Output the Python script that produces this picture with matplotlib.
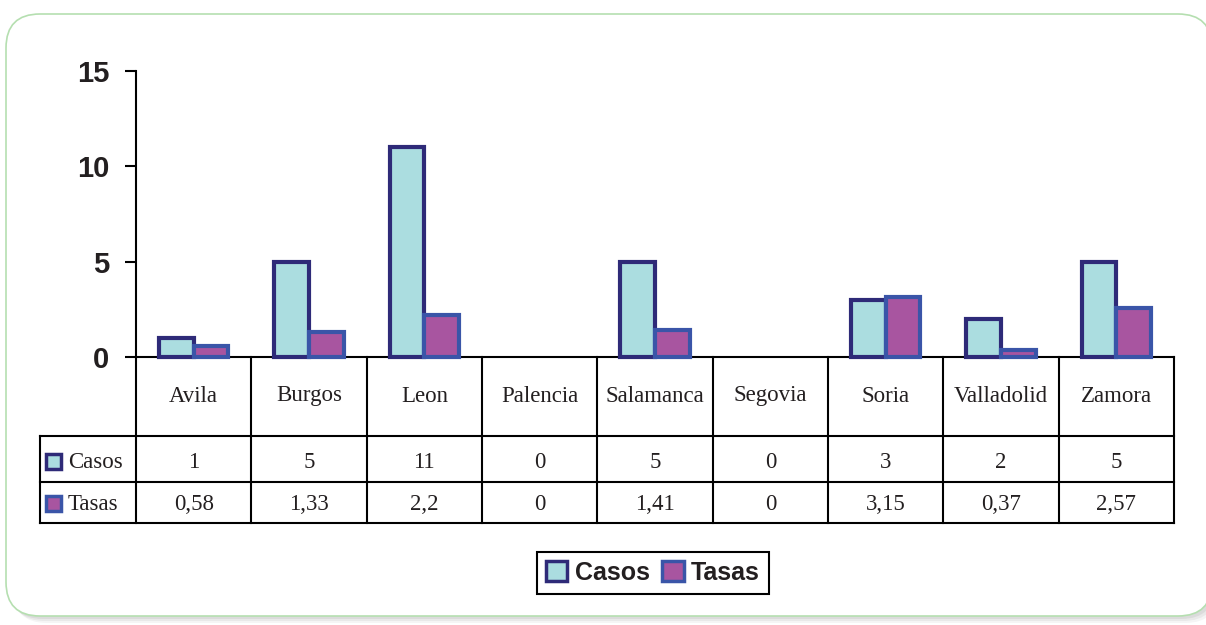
import matplotlib
matplotlib.use("Agg")
import matplotlib.pyplot as plt
from matplotlib.patches import FancyBboxPatch, Patch, Rectangle
from matplotlib.transforms import IdentityTransform
import numpy as np

categories = ["Avila", "Burgos", "Leon", "Palencia", "Salamanca",
              "Segovia", "Soria", "Valladolid", "Zamora"]
casos = [1, 5, 11, 0, 5, 0, 3, 2, 5]
tasas = [0.58, 1.33, 2.2, 0, 1.41, 0, 3.15, 0.37, 2.57]
yticks = [0, 5, 10, 15]

CASOS_FILL, CASOS_EDGE = "#abdde0", "#2e2a78"
TASAS_FILL, TASAS_EDGE = "#a855a0", "#3a55a8"
SERIF = "Liberation Serif"
SANS = "Liberation Sans"

W, H = 1206, 625
fig = plt.figure(figsize=(W / 100, H / 100), dpi=100)


def fy(y_img):
    return 1 - y_img / H


# rounded green frame with soft shadow
for off, a in [(7, 0.08), (5, 0.10), (3, 0.13)]:
    fig.patches.append(FancyBboxPatch(
        (6 + off, 9 - off), 1206, 602, boxstyle="round,pad=0,rounding_size=34",
        transform=IdentityTransform(), facecolor="#808080", edgecolor="none",
        alpha=a, zorder=-3))
fig.patches.append(FancyBboxPatch(
    (6, 9), 1206, 602, boxstyle="round,pad=0,rounding_size=34",
    transform=IdentityTransform(), facecolor="white", edgecolor="#b5dfb0",
    linewidth=1.2, zorder=-2))

# bar axes
x0, x1 = 136, 1174
y_top, y_base, y_tab = 71, 357, 523
ax = fig.add_axes([x0 / W, fy(y_base), (x1 - x0) / W, (y_base - y_top) / H])
ax.set_facecolor("none")
n = len(categories)
x = np.arange(n)
ax.set_xlim(-0.5, n - 0.5)
ax.set_ylim(0, 15)

bw = 0.3
lw_c = [0 if v == 0 else 3 for v in casos]
lw_t = [0 if v == 0 else 3 for v in tasas]
ax.bar(x - bw / 2, casos, bw, color=CASOS_FILL, edgecolor=CASOS_EDGE,
       linewidth=lw_c, clip_on=False, zorder=3)
ax.bar(x + bw / 2, tasas, bw, color=TASAS_FILL, edgecolor=TASAS_EDGE,
       linewidth=lw_t, clip_on=False, zorder=3)

ax.spines["top"].set_visible(False)
ax.spines["right"].set_visible(False)
ax.spines["left"].set_linewidth(1.5)
ax.spines["bottom"].set_linewidth(1.5)
ax.set_xticks([])
ax.set_yticks(yticks)
ax.set_yticklabels([str(t) for t in yticks], fontfamily=SANS,
                   fontweight="bold", fontsize=21, color="#231f20")
ax.tick_params(axis="y", direction="out", length=8, width=1.5, pad=11)

# data table below the axis
w = (x1 - x0) / n
lab_w = (x0 - 40) / w
tx = fig.add_axes([40 / W, fy(y_tab), (x1 - 40) / W, (y_tab - y_base) / H])
tx.set_xlim(-0.5 - lab_w, n - 0.5)
tx.set_ylim(y_tab, y_base)
tx.axis("off")

row_lines = [436, 482, 523]
for yl in row_lines:
    tx.plot([-0.5 - lab_w, n - 0.5], [yl, yl], color="black", lw=1.5,
            clip_on=False, solid_capstyle="projecting")
for i in range(n + 1):
    tx.plot([i - 0.5, i - 0.5], [y_base, y_tab], color="black", lw=1.5,
            clip_on=False, solid_capstyle="projecting")
tx.plot([-0.5 - lab_w] * 2, [row_lines[0], y_tab], color="black", lw=1.5,
        clip_on=False, solid_capstyle="projecting")

txt = dict(fontfamily=SERIF, fontsize=16.5, color="#231f20",
           ha="center", va="center")
for i, c in enumerate(categories):
    tx.text(i, 396, c, **txt)
    tx.text(i, 462, f"{casos[i]:g}", **txt)
    tx.text(i, 504, f"{tasas[i]:g}".replace(".", ","), **txt)

# row labels with small markers
px = 1 / w
for yc, name, fc, ec in [(462, "Casos", CASOS_FILL, CASOS_EDGE),
                         (504, "Tasas", TASAS_FILL, TASAS_EDGE)]:
    tx.add_patch(Rectangle((-0.5 - lab_w + 6 * px, yc + 7), 15 * px, -15,
                           facecolor=fc, edgecolor=ec, lw=2.5, clip_on=False))
    tx.text(-0.5 - lab_w + 28 * px, yc, name, fontfamily=SERIF,
            fontsize=16.5, color="#231f20", ha="left", va="center")

# legend
handles = [Patch(facecolor=CASOS_FILL, edgecolor=CASOS_EDGE, lw=2.5),
           Patch(facecolor=TASAS_FILL, edgecolor=TASAS_EDGE, lw=2.5)]
leg = fig.legend(handles, ["Casos", "Tasas"], loc="center",
                 bbox_to_anchor=(653 / W, fy(573)), ncol=2,
                 prop=dict(family=SANS, weight="bold", size=18),
                 handlelength=0.85, handleheight=0.85, handletextpad=0.3,
                 columnspacing=0.5, borderpad=0.35, fancybox=False,
                 framealpha=1, edgecolor="black")
leg.get_frame().set_linewidth(1.5)
for t in leg.get_texts():
    t.set_color("#231f20")

fig.savefig("out.png", dpi=100)
